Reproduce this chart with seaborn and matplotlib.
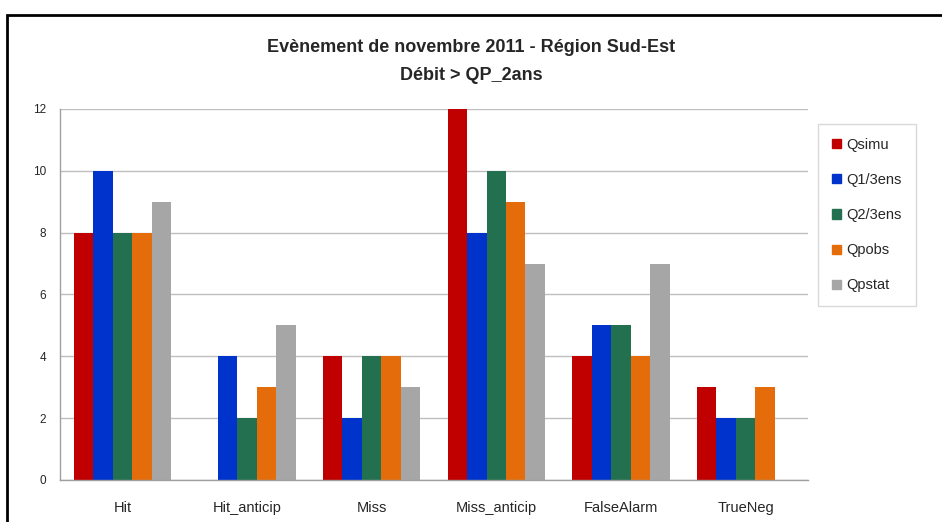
import pandas as pd
import seaborn as sns
import matplotlib.pyplot as plt
from matplotlib.patches import Rectangle

categories = ['Hit', 'Hit_anticip', 'Miss', 'Miss_anticip', 'FalseAlarm', 'TrueNeg']
series = ['Qsimu', 'Q1/3ens', 'Q2/3ens', 'Qpobs', 'Qpstat']
qsimu = [8, 0, 4, 12, 4, 3]
q1_3ens = [10, 4, 2, 8, 5, 2]
q2_3ens = [8, 2, 4, 10, 5, 2]
qpobs = [8, 3, 4, 9, 4, 3]
qpstat = [9, 5, 3, 7, 7, 0]
colors = ['#C00000', '#0033CC', '#237050', '#E46C0A', '#A6A6A6']


def main() -> None:
    sns.set_theme()
    sns.set_style("white")
    plt.rcParams['font.family'] = ['Liberation Sans', 'DejaVu Sans']

    values = [qsimu, q1_3ens, q2_3ens, qpobs, qpstat]
    rows = []
    for name, vals in zip(series, values):
        for cat, v in zip(categories, vals):
            rows.append({'cat': cat, 'serie': name, 'val': v})
    df = pd.DataFrame(rows)

    fig = plt.figure(figsize=(9.42, 5.22), dpi=100)
    ax = fig.add_axes([0.0637, 0.0805, 0.794, 0.7107])

    sns.barplot(data=df, x='cat', y='val', hue='serie', order=categories,
                hue_order=series, palette=colors, saturation=1, width=0.78,
                linewidth=0, ax=ax)

    ax.set_ylim(0, 12)
    ax.set_yticks(range(0, 13, 2))
    ax.set_xlabel('')
    ax.set_ylabel('')
    ax.set_axisbelow(True)
    ax.yaxis.grid(True, color='#BFBFBF', lw=1)
    ax.xaxis.grid(False)
    for s in ['top', 'right']:
        ax.spines[s].set_visible(False)
    for s in ['left', 'bottom']:
        ax.spines[s].set_color('#A0A0A0')
        ax.spines[s].set_linewidth(1)
    ax.tick_params(axis='y', labelsize=8.5, length=0, pad=10)
    ax.tick_params(axis='x', labelsize=10.5, length=0, pad=15)

    ax.get_legend().remove()
    handles = [plt.Rectangle((0, 0), 1, 1, color=c) for c in colors]
    leg = fig.legend(handles, series, loc='upper left',
                     bbox_to_anchor=(818 / 942, 1 - 124 / 522),
                     frameon=True, fancybox=False, fontsize=10.5,
                     handlelength=0.6, handleheight=0.6, handletextpad=0.4,
                     labelspacing=1.45, borderpad=0.95, borderaxespad=0)
    leg.get_frame().set_edgecolor('#D0D0D0')
    leg.get_frame().set_linewidth(1)

    fig.text(0.5, 1 - 47 / 522, 'Evènement de novembre 2011 - Région Sud-Est',
             ha='center', va='center', fontsize=13, fontweight='bold')
    fig.text(0.5, 1 - 75 / 522, 'Débit > QP_2ans',
             ha='center', va='center', fontsize=13, fontweight='bold')

    fig.patches.append(Rectangle((7 / 942, -0.1), 1.2, 1 - 15 / 522 + 0.1,
                                 transform=fig.transFigure, fill=False,
                                 edgecolor='black', lw=2, clip_on=False))

    fig.savefig('out.png', dpi=100)


main()
